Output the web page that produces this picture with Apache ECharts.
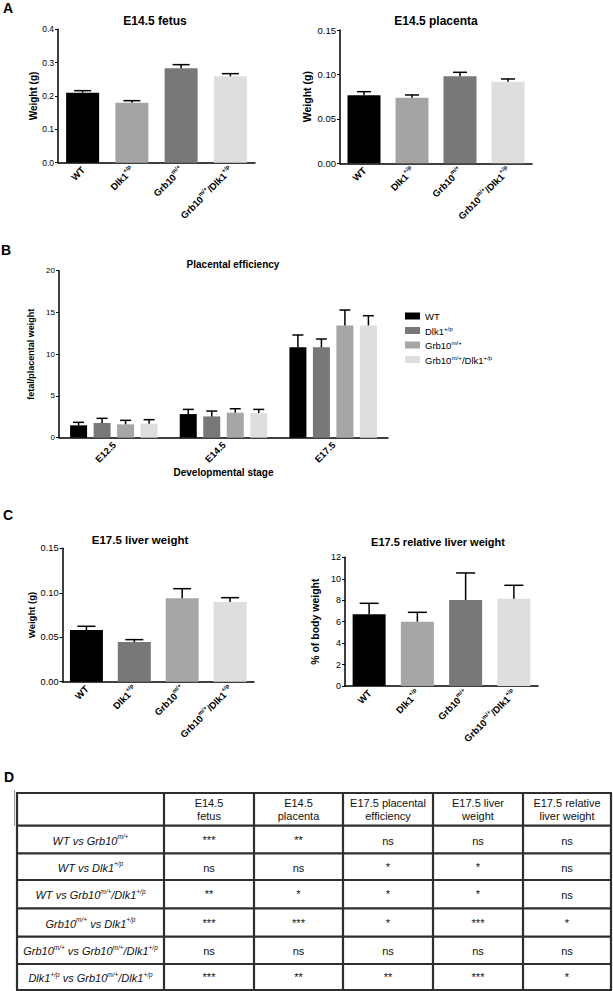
<!DOCTYPE html>
<html><head><meta charset="utf-8">
<script src="https://cdn.jsdelivr.net/npm/echarts@6/dist/echarts.min.js"></script>
<style>html,body{margin:0;padding:0;background:#fff}#c{width:613px;height:991px}</style>
</head><body><div id="c"></div>
<script>
// ---------- DATA ----------
const genotypes = ['WT', 'Dlk1[+/p]', 'Grb10[m/+]', 'Grb10[m/+]/Dlk1[+/p]'];

// Panel A
const fetusMean = [0.210, 0.180, 0.283, 0.259];
const fetusSem  = [0.006, 0.006, 0.011, 0.008];
const fetusTicks = [0, 0.1, 0.2, 0.3, 0.4];
const placentaMean = [0.0765, 0.0739, 0.0979, 0.0919];
const placentaSem  = [0.0041, 0.0030, 0.0045, 0.0030];
const placentaTicks = [0, 0.05, 0.10, 0.15];

// Panel B
const stages = ['E12.5', 'E14.5', 'E17.5'];
const effWT       = [1.48, 2.83, 10.82];
const effWTSem    = [0.36, 0.56, 1.48];
const effDlk1     = [1.76, 2.55, 10.82];
const effDlk1Sem  = [0.56, 0.64, 1.00];
const effGrb10    = [1.60, 2.99, 13.45];
const effGrb10Sem = [0.48, 0.48, 1.84];
const effDouble   = [1.68, 2.95, 13.45];
const effDoubleSem= [0.48, 0.44, 1.16];
const effTicks = [0, 5, 10, 15, 20];

// Panel C
const liverMean = [0.0581, 0.0446, 0.0937, 0.0896];
const liverSem  = [0.0042, 0.0027, 0.0109, 0.0049];
const liverTicks = [0, 0.05, 0.10, 0.15];
const relLiverMean = [6.68, 6.00, 8.02, 8.14];
const relLiverSem  = [1.03, 0.87, 2.52, 1.25];
const relLiverTicks = [0, 2, 4, 6, 8, 10, 12];

// Panel D
const tableHeaders = ['E14.5\nfetus', 'E14.5\nplacenta', 'E17.5 placental\nefficiency', 'E17.5 liver\nweight', 'E17.5 relative\nliver weight'];
const tableRows = ['WT vs Grb10[m/+]', 'WT vs Dlk1[+/p]', 'WT vs Grb10[m/+]/Dlk1[+/p]', 'Grb10[m/+] vs Dlk1[+/p]', 'Grb10[m/+] vs Grb10[m/+]/Dlk1[+/p]', 'Dlk1[+/p] vs Grb10[m/+]/Dlk1[+/p]'];
const tableCells = [
  ['***', '**', 'ns', 'ns', 'ns'],
  ['ns', 'ns', '*', '*', 'ns'],
  ['**', '*', '*', '*', 'ns'],
  ['***', '***', '*', '***', '*'],
  ['ns', 'ns', 'ns', 'ns', 'ns'],
  ['***', '**', '**', '***', '*']
];

// ---------- STYLE ----------
const FF = '"Liberation Sans", Arial, Helvetica, sans-serif';
const colorsA = ['#000000', '#a4a4a4', '#787878', '#dedede'];
const colorsB = ['#000000', '#787878', '#a6a6a6', '#dedede'];
const colorsLiver = ['#000000', '#787878', '#a6a6a6', '#dedede'];
const colorsRel = ['#000000', '#a6a6a6', '#787878', '#dedede'];

function rt(label, base, sup) {
  return label.split(/(\[[^\]]*\])/).filter(s => s).map(s =>
    s[0] === '[' ? '{' + sup + '|' + s.slice(1, -1) + '}' : '{' + base + '|' + s + '}').join('');
}

function xRich(size) {
  return {
    b: {fontSize: size, fontWeight: 'bold', fontFamily: FF, color: '#000', lineHeight: size + 2, verticalAlign: 'bottom'},
    s: {fontSize: size * 0.62, fontWeight: 'bold', fontFamily: FF, color: '#000', lineHeight: size + 2, verticalAlign: 'top'}
  };
}

function errRender(offset, capHalf) {
  return function (params, api) {
    const x = api.value(0), m = api.value(1), e = api.value(2);
    const p0 = api.coord([x, m]);
    const p1 = api.coord([x, m + e]);
    const cx = p0[0] + offset;
    const st = {stroke: '#000', lineWidth: 1.5};
    return {type: 'group', children: [
      {type: 'line', shape: {x1: cx, y1: p0[1], x2: cx, y2: p1[1]}, style: st},
      {type: 'line', shape: {x1: cx - capHalf, y1: p1[1], x2: cx + capHalf, y2: p1[1]}, style: st}
    ]};
  };
}

function yAxis(gi, ticks, dec, name, gap, nameSize, tickSize) {
  return {
    type: 'value', gridIndex: gi,
    min: ticks[0], max: ticks[ticks.length - 1], interval: ticks[1] - ticks[0],
    name: name, nameLocation: 'middle', nameGap: gap, nameRotate: 90,
    nameTextStyle: {fontFamily: FF, fontWeight: 'bold', fontSize: nameSize, color: '#000'},
    axisLine: {show: true, lineStyle: {color: '#000', width: 1.5}},
    axisTick: {show: true, length: 3, lineStyle: {color: '#000', width: 1}},
    splitLine: {show: false},
    axisLabel: {fontFamily: FF, fontSize: tickSize, color: '#000', margin: 4,
      formatter: v => v.toFixed(dec)}
  };
}
function xAxis(gi, data, size) {
  return {
    type: 'category', gridIndex: gi, data: data,
    axisLine: {show: true, lineStyle: {color: '#000', width: 1.5}},
    axisTick: {show: false},
    axisLabel: {interval: 0, rotate: 45, margin: 5, fontFamily: FF, fontSize: size, fontWeight: 'bold', color: '#000',
      formatter: v => rt(v, 'b', 's'), rich: xRich(size)}
  };
}
function barSeries(gi, means, colors, bw) {
  return {type: 'bar', xAxisIndex: gi, yAxisIndex: gi, barWidth: bw, z: 2,
    data: means.map((v, i) => ({value: v, itemStyle: {color: colors[i]}}))};
}
function errSeries(gi, means, sems, offset, capHalf) {
  return {type: 'custom', xAxisIndex: gi, yAxisIndex: gi, z: 3,
    renderItem: errRender(offset, capHalf),
    data: means.map((v, i) => [i, v, sems[i]])};
}

// ---------- OPTION ----------
const grids = [
  {left: 58, top: 29.3, width: 197, height: 133.4},
  {left: 340, top: 30, width: 192, height: 133.3},
  {left: 59, top: 270.7, width: 329, height: 167},
  {left: 62.5, top: 548.3, width: 191.5, height: 133.4},
  {left: 345, top: 557.3, width: 193, height: 128.7}
];

const effMeans = [effWT, effDlk1, effGrb10, effDouble];
const effSems = [effWTSem, effDlk1Sem, effGrb10Sem, effDoubleSem];
const BW = 17, BGAP = 6.5;

const series = [
  barSeries(0, fetusMean, colorsA, 33), errSeries(0, fetusMean, fetusSem, 0, 8.5),
  barSeries(1, placentaMean, colorsA, 33), errSeries(1, placentaMean, placentaSem, 0, 7),
  barSeries(3, liverMean, colorsLiver, 33), errSeries(3, liverMean, liverSem, 0, 9),
  barSeries(4, relLiverMean, colorsRel, 33), errSeries(4, relLiverMean, relLiverSem, 0, 9.5)
];
genotypes.forEach((g, k) => {
  series.push({type: 'bar', name: g, xAxisIndex: 2, yAxisIndex: 2, barWidth: BW, barGap: (BGAP / BW * 100) + '%',
    itemStyle: {color: colorsB[k]}, z: 2, data: effMeans[k]});
});
genotypes.forEach((g, k) => {
  series.push(Object.assign(errSeries(2, effMeans[k], effSems[k], (k - 1.5) * (BW + BGAP), 5.5), {name: 'err' + k}));
});

// ---------- GRAPHIC (titles, panel letters, table) ----------
const graphic = [];
function txt(x, y, text, size, weight, align) {
  graphic.push({type: 'text', x: x, y: y, silent: true,
    style: {text: text, fontSize: size, fontWeight: weight || 'normal', fontFamily: FF, fill: '#000',
      align: align || 'center', verticalAlign: 'middle'}});
}
txt(8, 8, 'A', 14, 'bold', 'center');
txt(6, 250, 'B', 14, 'bold', 'center');
txt(8, 515, 'C', 14, 'bold', 'center');
txt(9, 777, 'D', 14, 'bold', 'center');
txt(155, 21, 'E14.5 fetus', 12, 'bold');
txt(436, 21, 'E14.5 placenta', 12, 'bold');
txt(233, 264, 'Placental efficiency', 10, 'bold');
txt(140, 540, 'E17.5 liver weight', 11.5, 'bold');
txt(438, 542, 'E17.5 relative liver weight', 11, 'bold');

const colX = [17, 164, 254, 343, 433, 523, 611];
const rowY = [793, 825.7, 853.3, 880, 908.3, 936.7, 964, 990];
const lineSt = {stroke: '#2e2e2e', lineWidth: 2.2};
colX.forEach(x => graphic.push({type: 'line', silent: true, shape: {x1: x, y1: rowY[0], x2: x, y2: rowY[rowY.length - 1]}, style: lineSt}));
rowY.forEach(y => graphic.push({type: 'line', silent: true, shape: {x1: colX[0] - 1, y1: y, x2: colX[colX.length - 1] + 1, y2: y}, style: lineSt}));
graphic.push({type: 'line', silent: true, shape: {x1: 14.5, y1: 790, x2: 14.5, y2: 826}, style: {stroke: '#999', lineWidth: 1}});
tableHeaders.forEach((h, j) => {
  graphic.push({type: 'text', silent: true, x: (colX[j + 1] + colX[j + 2]) / 2, y: (rowY[0] + rowY[1]) / 2,
    style: {text: h, fontSize: 11, fontFamily: FF, fill: '#111', align: 'center', verticalAlign: 'middle', lineHeight: 12.5}});
});
const rowRich = {
  i: {fontSize: 11, fontStyle: 'italic', fontFamily: FF, fill: '#111', color: '#111', lineHeight: 13, verticalAlign: 'bottom'},
  s: {fontSize: 6.5, fontStyle: 'italic', fontFamily: FF, fill: '#111', color: '#111', lineHeight: 13, verticalAlign: 'top'}
};
tableRows.forEach((r, i) => {
  const cy = (rowY[i + 1] + rowY[i + 2]) / 2;
  graphic.push({type: 'text', silent: true, x: (colX[0] + colX[1]) / 2, y: cy,
    style: {text: rt(r, 'i', 's'), rich: rowRich, fontSize: 11, fontFamily: FF, align: 'center', verticalAlign: 'middle'}});
  tableCells[i].forEach((c, j) => {
    graphic.push({type: 'text', silent: true, x: (colX[j + 1] + colX[j + 2]) / 2, y: cy + (c === 'ns' ? 1 : 0),
      style: {text: c, fontSize: 11, fontFamily: FF, fill: '#111', align: 'center', verticalAlign: 'middle'}});
  });
});

const option = {
  animation: false,
  backgroundColor: '#fff',
  grid: grids,
  xAxis: [xAxis(0, genotypes, 9.5), xAxis(1, genotypes, 9.5), xAxis(2, stages, 9.5), xAxis(3, genotypes, 9.5), xAxis(4, genotypes, 9.5)],
  yAxis: [
    yAxis(0, fetusTicks, 1, 'Weight (g)', 20, 10, 8.5),
    yAxis(1, placentaTicks, 2, 'Weight (g)', 28, 10.5, 9.5),
    yAxis(2, effTicks, 0, 'fetal/placental weight', 16, 9, 8),
    yAxis(3, liverTicks, 2, 'Weight (g)', 24, 9.5, 9.2),
    yAxis(4, relLiverTicks, 0, '% of body weight', 25, 10.5, 9)
  ],
  legend: {
    data: genotypes, orient: 'vertical', left: 400, top: 306.5, itemWidth: 15, itemHeight: 7, itemGap: 3.5,
    icon: 'rect', selectedMode: false,
    formatter: n => rt(n, 'r', 's'),
    textStyle: {fontFamily: FF, fontSize: 9, color: '#000', rich: {
      r: {fontSize: 9.5, fontFamily: FF, color: '#000', lineHeight: 11, verticalAlign: 'bottom'},
      s: {fontSize: 6.2, fontFamily: FF, color: '#000', lineHeight: 11, verticalAlign: 'top'}
    }}
  },
  series: series,
  graphic: graphic
};
// B x-axis name
option.xAxis[2].name = 'Developmental stage';
option.xAxis[2].nameLocation = 'middle';
option.xAxis[2].nameGap = 30;
option.xAxis[2].nameTextStyle = {fontFamily: FF, fontWeight: 'bold', fontSize: 10, color: '#000'};

const chart = echarts.init(document.getElementById('c'), null, {renderer: 'svg'});
chart.setOption(option);
</script></body></html>
